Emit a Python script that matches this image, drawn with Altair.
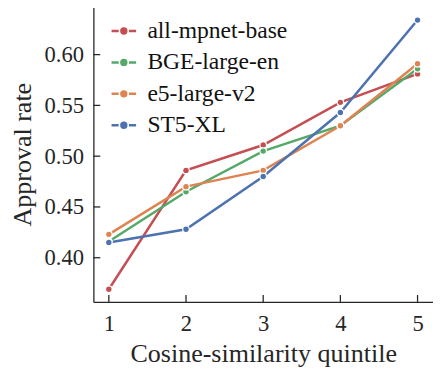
import altair as alt
import pandas as pd

quintiles = [1, 2, 3, 4, 5]
models = ["all-mpnet-base", "BGE-large-en", "e5-large-v2", "ST5-XL"]
mpnet = [0.369, 0.486, 0.511, 0.553, 0.581]
bge = [0.416, 0.465, 0.505, 0.530, 0.586]
e5 = [0.423, 0.470, 0.486, 0.530, 0.591]
st5 = [0.415, 0.428, 0.480, 0.543, 0.634]
colors = ["#c44e52", "#55a868", "#dd8452", "#4c72b0"]
xticks = [1, 2, 3, 4, 5]
yticks = [0.40, 0.45, 0.50, 0.55, 0.60]

rows = []
for name, vals in zip(models, [mpnet, bge, e5, st5]):
    for q, v in zip(quintiles, vals):
        rows.append({"quintile": q, "rate": v, "model": name})
df = pd.DataFrame(rows)

W, H = 346, 301
FONT = "Liberation Serif"
INK = "#262626"

xscale = alt.Scale(domain=[0.8, 5.2], nice=False, zero=False)
yscale = alt.Scale(domain=[0.3565, 0.6474], nice=False, zero=False)

legend_path = "M-1,0H-0.42M0.42,0H1M-0.2,0A0.2,0.2,0,1,1,0.2,0A0.2,0.2,0,1,1,-0.2,0Z"

lines = alt.Chart(df).mark_line(
    strokeWidth=2.5,
    point=alt.OverlayMarkDef(filled=True, size=45, stroke="white", strokeWidth=1.2),
).encode(
    x=alt.X("quintile:Q", scale=xscale,
            axis=alt.Axis(values=xticks, format="d", title="Cosine-similarity quintile")),
    y=alt.Y("rate:Q", scale=yscale,
            axis=alt.Axis(values=yticks, format=".2f", title="Approval rate")),
    color=alt.Color("model:N", sort=models,
                    scale=alt.Scale(domain=models, range=colors),
                    legend=alt.Legend(title=None, orient="none", legendX=17, legendY=11,
                                      symbolType=legend_path, symbolSize=625,
                                      symbolStrokeWidth=2.5, labelOffset=10,
                                      rowPadding=6, padding=0,
                                      labelFontSize=24, labelFont=FONT, labelColor="#111")),
)

xt = alt.Chart(pd.DataFrame({"t": xticks})).mark_rule(color=INK, strokeWidth=1.3).encode(
    x=alt.X("t:Q", scale=xscale), y=alt.value(H), y2=alt.value(H - 7))
yt = alt.Chart(pd.DataFrame({"t": yticks})).mark_rule(color=INK, strokeWidth=1.3).encode(
    y=alt.Y("t:Q", scale=yscale), x=alt.value(0), x2=alt.value(7))

chart = alt.layer(lines, xt, yt).properties(
    width=W, height=H,
    autosize=alt.AutoSizeParams(type="none"),
    padding={"left": 87, "top": -5, "right": 0, "bottom": 70},
).configure_view(stroke=None).configure_axis(
    grid=False, ticks=False, domainColor=INK, domainWidth=1.3,
    labelFont=FONT, labelFontSize=23, labelColor=INK, labelPadding=11,
    titleFont=FONT, titleFontSize=26.5, titleColor=INK, titleFontWeight="normal",
).configure_axisY(labelPadding=10, titlePadding=8).configure_axisX(titlePadding=6)

chart.save("out.html", embed_options={"renderer": "svg", "actions": False})
